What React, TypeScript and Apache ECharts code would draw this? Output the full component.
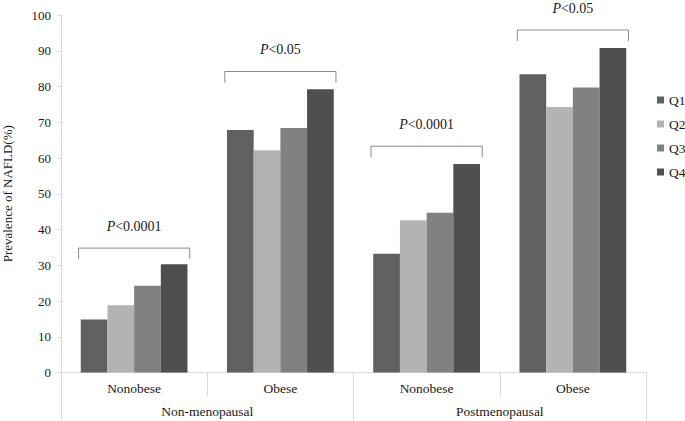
import React, { useEffect, useRef } from "react";
import * as echarts from "echarts";

const categories = ["Nonobese", "Obese", "Nonobese", "Obese"];
const groups = ["Non-menopausal", "Postmenopausal"];
const seriesNames = ["Q1", "Q2", "Q3", "Q4"];
const q1 = [14.8, 67.8, 33.2, 83.4];
const q2 = [18.8, 62.2, 42.6, 74.3];
const q3 = [24.3, 68.4, 44.7, 79.7];
const q4 = [30.3, 79.2, 58.3, 90.8];
const bracketLevels = [34.8, 84.2, 63.3, 95.8];
const bracketLabels = ["<0.0001", "<0.05", "<0.0001", "<0.05"];
const yTicks = { min: 0, max: 100, interval: 10 };

const colors = ["#606060", "#b3b3b3", "#818181", "#4f4f4f"];
const FONT = "Liberation Serif";

export default function App() {
  const ref = useRef<HTMLDivElement>(null);
  useEffect(() => {
    if (!ref.current) return;
    const chart = echarts.init(ref.current, undefined, { renderer: "svg" });
    const values = [q1, q2, q3, q4];
    const option: any = {
      animation: false,
      textStyle: { fontFamily: FONT, color: "#1a1a1a" },
      grid: { left: 61, right: 39, top: 15, bottom: 48.5, containLabel: false, outerBoundsMode: "none" },
      legend: {
        data: seriesNames,
        orient: "vertical",
        left: 652,
        top: 88,
        icon: "rect",
        itemWidth: 7,
        itemHeight: 7,
        itemGap: 10,
        textStyle: { fontFamily: FONT, fontSize: 13.5, color: "#1a1a1a" },
      },
      xAxis: [
        {
          type: "category",
          data: categories,
          position: "bottom",
          axisLine: { show: true, lineStyle: { color: "#d9d9d9", width: 1 } },
          axisTick: { show: true, interval: 0, length: 23, lineStyle: { color: "#d9d9d9" } },
          axisLabel: { interval: 0, margin: 9, fontSize: 13.5, fontFamily: FONT, color: "#1a1a1a" },
        },
        {
          type: "category",
          data: groups,
          position: "bottom",
          axisLine: { show: false },
          axisTick: { show: true, interval: 0, length: 48, lineStyle: { color: "#d9d9d9" } },
          axisLabel: { interval: 0, margin: 32, fontSize: 13.5, fontFamily: FONT, color: "#1a1a1a" },
        },
      ],
      yAxis: {
        type: "value",
        min: yTicks.min,
        max: yTicks.max,
        interval: yTicks.interval,
        name: "Prevalence of NAFLD(%)",
        nameLocation: "middle",
        nameGap: 47,
        nameTextStyle: { fontFamily: FONT, fontSize: 13, color: "#1a1a1a" },
        axisLine: { show: true, lineStyle: { color: "#d9d9d9" } },
        axisTick: { show: true, length: 4, lineStyle: { color: "#d9d9d9" } },
        axisLabel: { margin: 10, fontSize: 13, fontFamily: FONT, color: "#1a1a1a" },
        splitLine: { show: false },
      },
      series: [
        ...seriesNames.map((name, i) => ({
          name,
          type: "bar",
          xAxisIndex: 0,
          data: values[i],
          barGap: "0%",
          barCategoryGap: "27%",
          itemStyle: { color: colors[i] },
        })),
        {
          type: "custom",
          name: "brackets",
          xAxisIndex: 0,
          yAxisIndex: 0,
          data: bracketLevels.map((v, i) => [i, v]),
          z: 5,
          renderItem: (params: any, api: any) => {
            const c = api.coord([api.value(0), api.value(1)]);
            const w = api.size([1, 0])[0] * 0.76;
            const left = c[0] - w / 2;
            const right = c[0] + w / 2;
            const y = c[1];
            return {
              type: "group",
              children: [
                {
                  type: "polyline",
                  shape: { points: [[left, y + 11], [left, y], [right, y], [right, y + 11]] },
                  style: { stroke: "#8a8a8a", lineWidth: 1, fill: "none" },
                },
                {
                  type: "text",
                  x: c[0],
                  y: y - 22,
                  style: {
                    text: "{i|P}{n|" + bracketLabels[params.dataIndex] + "}",
                    align: "center",
                    verticalAlign: "middle",
                    rich: {
                      i: { fontStyle: "italic", fontFamily: FONT, fontSize: 14, fill: "#1a1a1a" },
                      n: { fontFamily: FONT, fontSize: 14, fill: "#1a1a1a" },
                    },
                  },
                },
              ],
            };
          },
        },
      ],
    };
    chart.setOption(option);
    return () => chart.dispose();
  }, []);
  return <div ref={ref} style={{ position: "absolute", left: 0, top: 0, width: 685, height: 421 }} />;
}
